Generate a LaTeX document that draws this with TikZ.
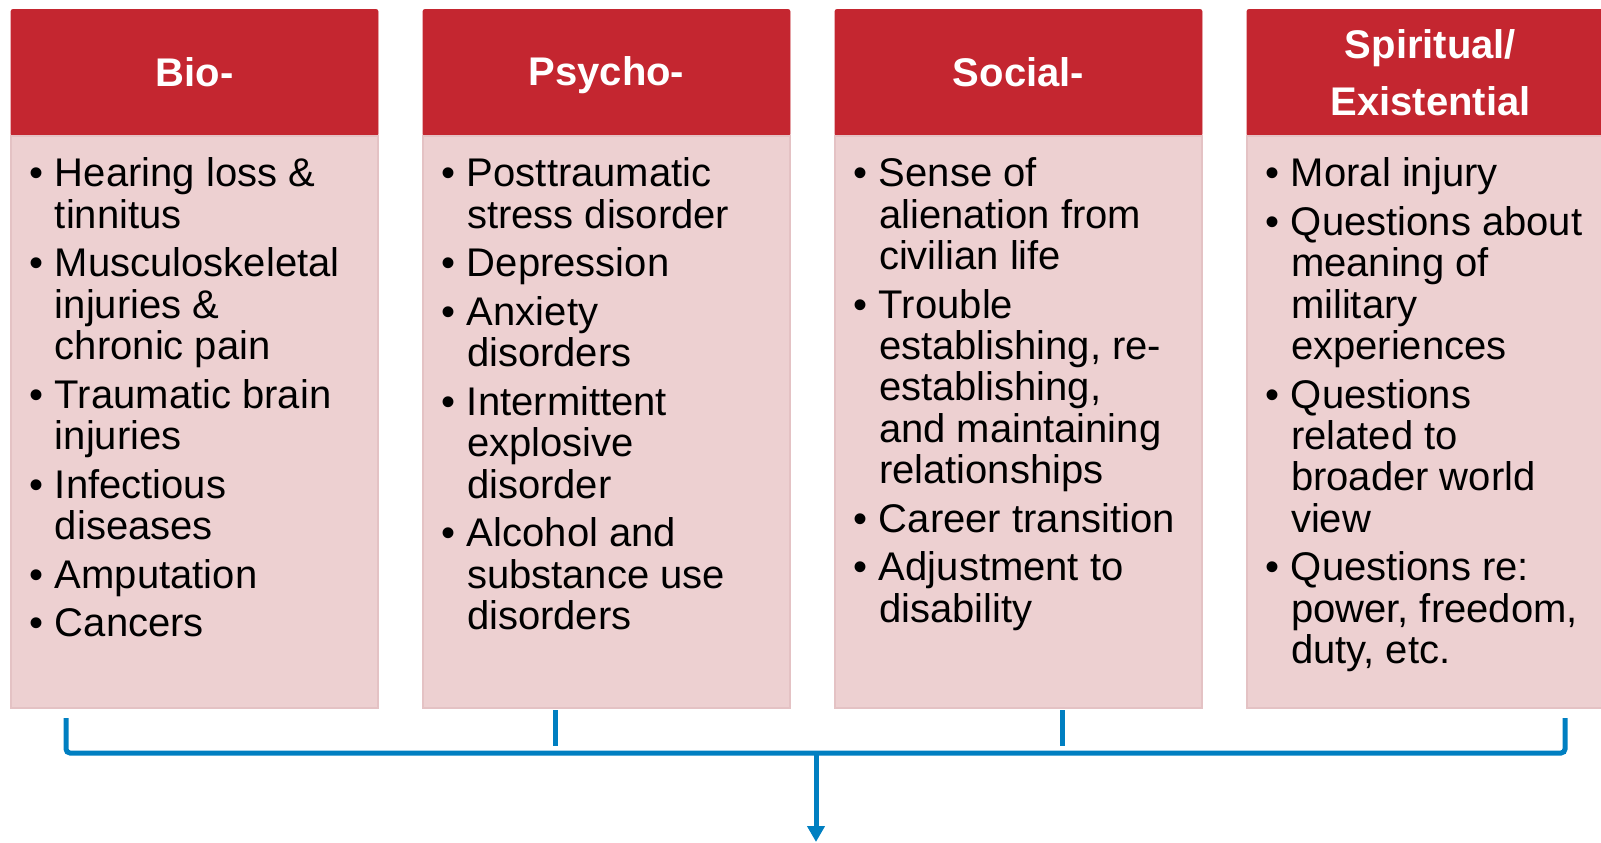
\documentclass[tikz,border=0pt]{standalone}
\usepackage{fontspec}
\setmainfont{Liberation Sans}
\usetikzlibrary{positioning, calc, arrows.meta}

\definecolor{headred}{RGB}{196,38,48}
\definecolor{bodypink}{RGB}{237,208,209}
\definecolor{edgepink}{RGB}{228,194,196}
\definecolor{linkblue}{RGB}{0,127,193}

\newcommand{\bul}{\makebox[13pt][l]{\textbullet}}
\newcommand{\ind}{\makebox[13pt]{}}
\newcommand{\hs}{\rule[-3.1pt]{0pt}{20pt}}

\tikzset{
  head/.style={fill=headred, draw=headred, minimum width=183.5pt, minimum height=63.25pt,
    inner sep=0pt, outer sep=0pt, text=white, align=center, rounded corners=1pt,
    font=\fontsize{20}{28.5}\selectfont\bfseries},
  body/.style={fill=bodypink, draw=edgepink, line width=0.6pt, minimum width=183.5pt,
    minimum height=286pt, inner sep=0pt, outer sep=0pt},
  items/.style={inner sep=0pt, outer sep=0pt, align=left, font=\fontsize{20}{20.7}\selectfont},
  link/.style={draw=linkblue, line width=2.5pt, rounded corners=2pt},
}

\begin{document}
\begin{tikzpicture}[x=0.5pt, y=-0.5pt]
            \useasboundingbox (0,0) rectangle (1601,842);
            \clip (0,0) rectangle (1601,842);

            % column heads
            \node[head, anchor=north west] (bio) at (11,9.5) {\hs Bio-};
            \node[head, right=22.5pt of bio] (psy) {\hs Psycho-};
            \node[head, right=22.5pt of psy] (soc) {\hs Social-};
            \node[head, right=22.5pt of soc] (spi) {\hs Spiritual/\\\hs Existential};

            % column bodies
            \node[body, below=0pt of bio] (biob) {};
            \node[body, below=0pt of psy] (psyb) {};
            \node[body, below=0pt of soc] (socb) {};
            \node[body, below=0pt of spi] (spib) {};

            \node[items, below right=10.9pt and 9pt of biob.north west] (bioi) {%
              \bul Hearing loss \&\\ \ind tinnitus\\[3.6pt]
              \bul Musculoskeletal\\ \ind injuries \&\\ \ind chronic pain\\[3.6pt]
              \bul Traumatic brain\\ \ind injuries\\[3.6pt]
              \bul Infectious\\ \ind diseases\\[3.6pt]
              \bul Amputation\\[3.6pt]
              \bul Cancers};
            \node[items, below right=10.9pt and 9pt of psyb.north west] (psyi) {%
              \bul Posttraumatic\\ \ind stress disorder\\[3.6pt]
              \bul Depression\\[3.6pt]
              \bul Anxiety\\ \ind disorders\\[3.6pt]
              \bul Intermittent\\ \ind explosive\\ \ind disorder\\[3.6pt]
              \bul Alcohol and\\ \ind substance use\\ \ind disorders};
            \node[items, below right=10.9pt and 9pt of socb.north west] (soci) {%
              \bul Sense of\\ \ind alienation from\\ \ind civilian life\\[3.6pt]
              \bul Trouble\\ \ind establishing, re-\\ \ind establishing,\\ \ind and maintaining\\ \ind relationships\\[3.6pt]
              \bul Career transition\\[3.6pt]
              \bul Adjustment to\\ \ind disability};
            \node[items, below right=10.9pt and 9pt of spib.north west] (spii) {%
              \bul Moral injury\\[3.6pt]
              \bul Questions about\\ \ind meaning of\\ \ind military\\ \ind experiences\\[3.6pt]
              \bul Questions\\ \ind related to\\ \ind broader world\\ \ind view\\[3.6pt]
              \bul Questions re:\\ \ind power, freedom,\\ \ind duty, etc.};

            % bracket and arrow
            \coordinate (bl) at ($(biob.south west)+(55,10)$);
            \coordinate (br) at ($(spib.south west)+(318,10)$);
            \coordinate (t1) at ($(psyb.south west)+(132,2)$);
            \coordinate (t2) at ($(socb.south west)+(227,2)$);
            \coordinate (mid) at ($(bl)+(750,35)$);
            \coordinate (out) at (mid |- 0,842);
            \draw[link] (bl) -- ++(0,35) -| (br);
            \draw[link] (t1) -- ++(0,36);
            \draw[link] (t2) -- ++(0,36);
            \draw[link, -{Triangle[width=8.5pt,length=8pt]}] (mid) -- (out);
        \end{tikzpicture}
\end{document}
